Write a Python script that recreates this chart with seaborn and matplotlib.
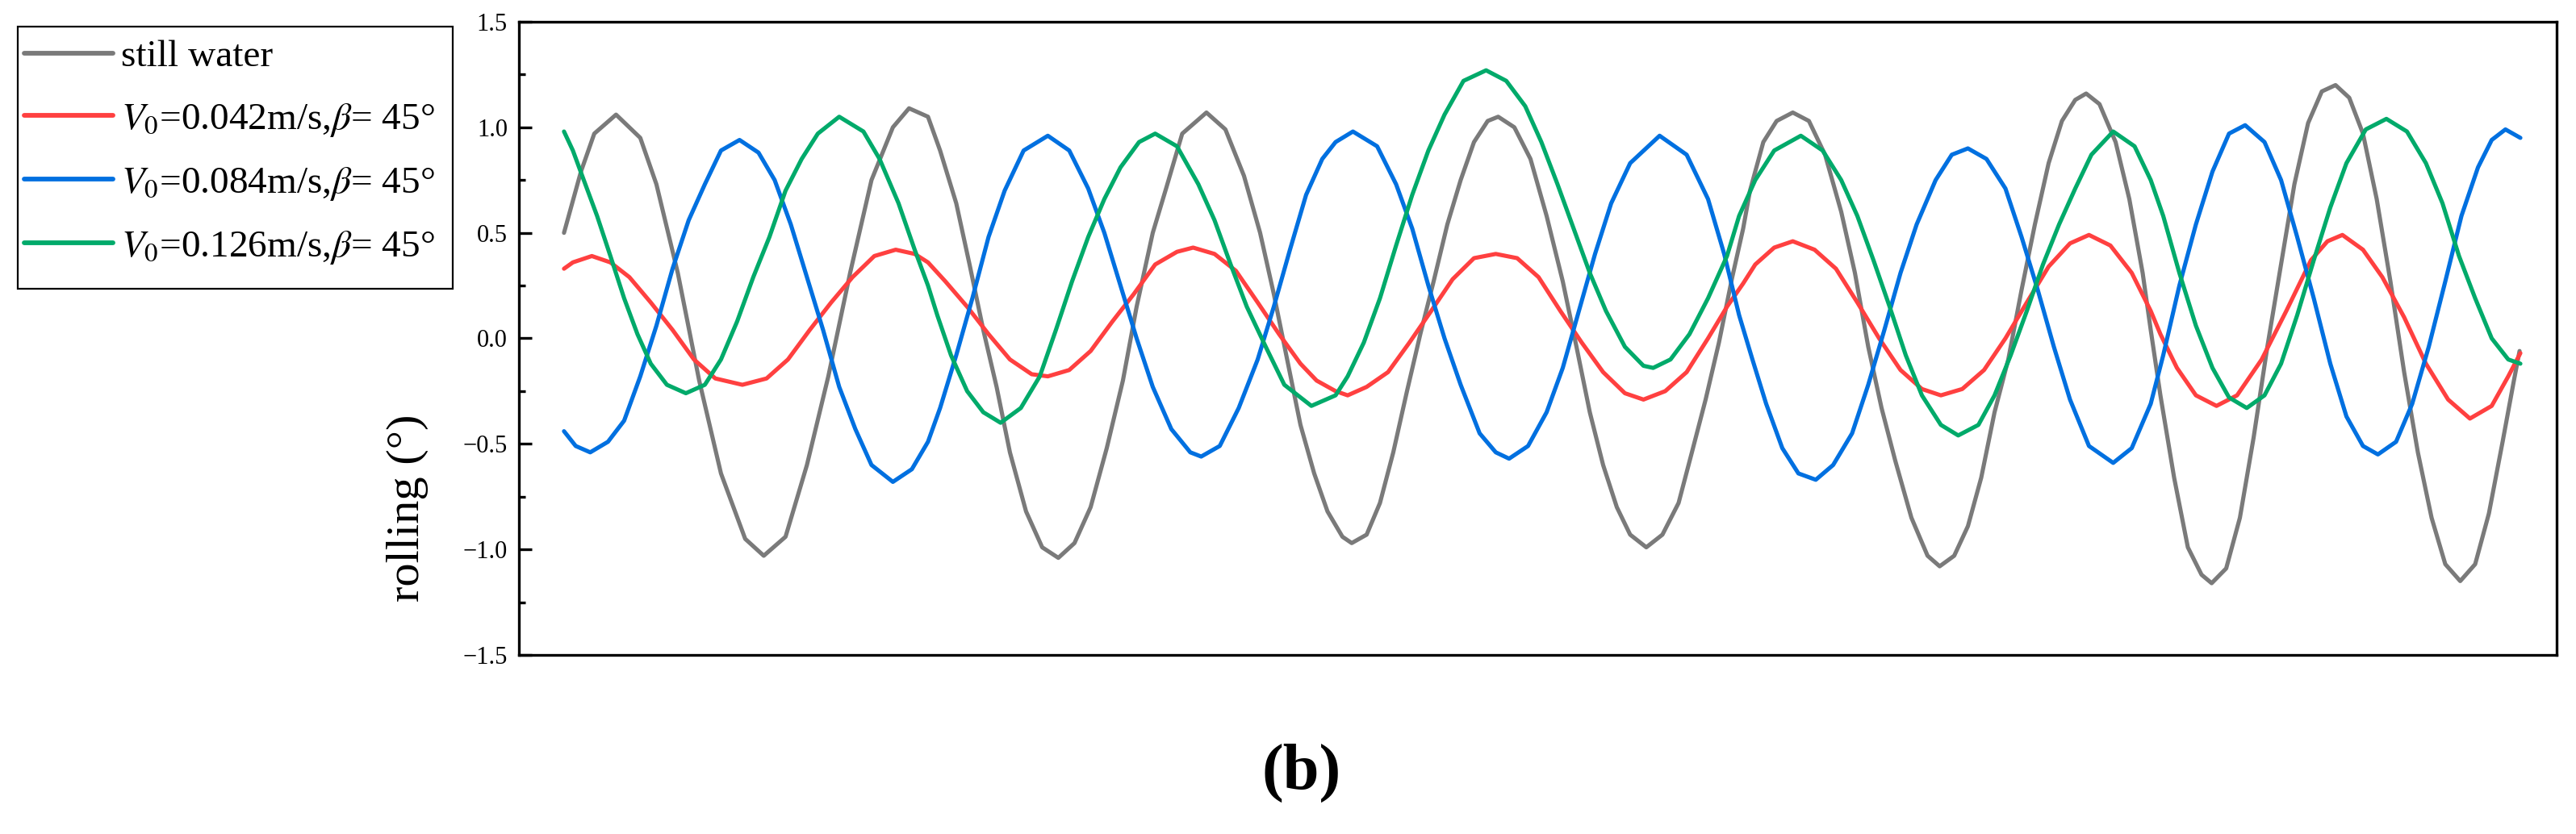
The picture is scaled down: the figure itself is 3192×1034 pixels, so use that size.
import matplotlib
matplotlib.use("Agg")
import matplotlib.pyplot as plt
import seaborn as sns
import pandas as pd
from matplotlib.lines import Line2D
from matplotlib.patches import Rectangle
from matplotlib.ticker import MultipleLocator, FuncFormatter

# rolling angle (deg) vs time (s)

# still water
t_still = [0.00, 0.42, 0.75, 1.29, 1.89, 2.29, 2.82, 3.35, 3.89, 4.49,
           4.95, 5.49, 6.02, 6.55, 7.09, 7.62, 8.15, 8.55, 9.02, 9.32,
           9.72, 10.05, 10.39, 10.72, 11.05, 11.45, 11.85, 12.25, 12.65, 13.05,
           13.45, 13.85, 14.19, 14.59, 14.92, 15.32, 15.92, 16.39, 16.85, 17.25,
           17.59, 17.92, 18.25, 18.59, 18.92, 19.29, 19.52, 19.89, 20.22, 20.55,
           20.89, 21.22, 21.55, 21.89, 22.22, 22.55, 22.89, 23.15, 23.55, 23.95,
           24.35, 24.75, 25.09, 25.42, 25.75, 26.09, 26.42, 26.82, 27.22, 27.62,
           27.95, 28.29, 28.62, 28.95, 29.22, 29.39, 29.72, 30.05, 30.45, 30.85,
           31.25, 31.65, 31.99, 32.32, 32.65, 32.99, 33.39, 33.79, 34.09, 34.45,
           34.79, 35.12, 35.45, 35.79, 36.12, 36.45, 36.79, 37.12, 37.45, 37.72,
           38.05, 38.45, 38.79, 39.12, 39.32, 39.56, 39.90, 40.24, 40.58, 40.83,
           41.19, 41.53, 41.87, 42.21, 42.55, 42.88, 43.22, 43.56, 43.90, 44.24,
           44.58, 44.92, 45.26, 45.60, 45.94, 46.28, 46.62, 46.99, 47.36, 47.70,
           48.04, 48.32, 48.46]
roll_still = [0.50, 0.79, 0.97, 1.06, 0.95, 0.73, 0.31, -0.20, -0.64, -0.95,
              -1.03, -0.94, -0.60, -0.18, 0.31, 0.75, 1.00, 1.09, 1.05, 0.89,
              0.64, 0.35, 0.04, -0.23, -0.54, -0.82, -0.99, -1.04, -0.97, -0.80,
              -0.52, -0.20, 0.15, 0.50, 0.71, 0.97, 1.07, 0.99, 0.77, 0.50,
              0.21, -0.10, -0.41, -0.64, -0.82, -0.94, -0.97, -0.93, -0.78, -0.54,
              -0.25, 0.02, 0.27, 0.54, 0.75, 0.93, 1.03, 1.05, 1.00, 0.85,
              0.58, 0.27, -0.04, -0.35, -0.60, -0.80, -0.93, -0.99, -0.93, -0.78,
              -0.54, -0.29, -0.02, 0.29, 0.52, 0.70, 0.93, 1.03, 1.07, 1.03,
              0.87, 0.60, 0.31, -0.04, -0.33, -0.58, -0.85, -1.03, -1.08, -1.03,
              -0.89, -0.66, -0.35, -0.10, 0.23, 0.54, 0.83, 1.03, 1.13, 1.16,
              1.11, 0.93, 0.66, 0.31, 0.04, -0.27, -0.66, -0.99, -1.12, -1.16,
              -1.09, -0.85, -0.47, -0.04, 0.35, 0.73, 1.02, 1.17, 1.20, 1.14,
              0.97, 0.66, 0.27, -0.16, -0.54, -0.85, -1.07, -1.15, -1.07, -0.83,
              -0.49, -0.20, -0.06]

# V0 = 0.042 m/s
t_v042 = [0.00, 0.22, 0.69, 1.15, 1.62, 2.15, 2.69, 3.22, 3.75, 4.42,
          5.02, 5.55, 6.09, 6.62, 7.15, 7.69, 8.22, 8.69, 9.02, 9.45,
          9.99, 10.52, 11.05, 11.59, 11.99, 12.52, 13.05, 13.59, 14.12, 14.65,
          15.19, 15.59, 16.12, 16.65, 17.19, 17.72, 18.25, 18.65, 19.12, 19.42,
          19.89, 20.42, 20.95, 21.49, 22.02, 22.55, 23.09, 23.62, 24.15, 24.69,
          25.22, 25.75, 26.29, 26.75, 27.29, 27.82, 28.35, 28.82, 29.22, 29.52,
          29.99, 30.45, 30.99, 31.52, 32.05, 32.59, 33.12, 33.65, 34.12, 34.65,
          35.19, 35.72, 36.25, 36.79, 37.32, 37.79, 38.32, 38.85, 39.32, 39.56,
          39.97, 40.44, 40.95, 41.46, 42.07, 42.68, 43.29, 43.70, 44.07, 44.58,
          45.06, 45.60, 46.14, 46.69, 47.23, 47.77, 48.18, 48.48]
roll_v042 = [0.33, 0.36, 0.39, 0.36, 0.29, 0.17, 0.04, -0.10, -0.19, -0.22,
             -0.19, -0.10, 0.04, 0.17, 0.29, 0.39, 0.42, 0.40, 0.36, 0.27,
             0.15, 0.02, -0.10, -0.17, -0.18, -0.15, -0.06, 0.08, 0.21, 0.35,
             0.41, 0.43, 0.40, 0.32, 0.17, 0.02, -0.12, -0.20, -0.25, -0.27,
             -0.23, -0.16, -0.02, 0.13, 0.28, 0.38, 0.40, 0.38, 0.29, 0.13,
             -0.02, -0.16, -0.26, -0.29, -0.25, -0.16, 0.00, 0.15, 0.26, 0.35,
             0.43, 0.46, 0.42, 0.33, 0.17, 0.00, -0.15, -0.24, -0.27, -0.24,
             -0.15, 0.00, 0.17, 0.34, 0.45, 0.49, 0.44, 0.31, 0.13, 0.02,
             -0.14, -0.27, -0.32, -0.27, -0.10, 0.13, 0.37, 0.46, 0.49, 0.42,
             0.29, 0.10, -0.12, -0.29, -0.38, -0.32, -0.18, -0.07]

# V0 = 0.084 m/s
t_v084 = [0.00, 0.29, 0.65, 1.09, 1.49, 1.89, 2.29, 2.69, 3.09, 3.49,
          3.89, 4.35, 4.82, 5.22, 5.62, 6.02, 6.42, 6.82, 7.22, 7.62,
          8.15, 8.62, 9.02, 9.32, 9.72, 10.12, 10.52, 10.92, 11.39, 11.99,
          12.52, 12.99, 13.39, 13.79, 14.19, 14.59, 15.05, 15.52, 15.79, 16.25,
          16.72, 17.19, 17.59, 17.99, 18.39, 18.79, 19.12, 19.55, 20.15, 20.62,
          21.02, 21.42, 21.82, 22.22, 22.69, 23.09, 23.42, 23.89, 24.35, 24.75,
          25.15, 25.55, 25.95, 26.42, 27.15, 27.82, 28.35, 28.75, 29.12, 29.45,
          29.79, 30.19, 30.59, 31.02, 31.45, 31.92, 32.32, 32.72, 33.12, 33.52,
          33.99, 34.39, 34.79, 35.25, 35.72, 36.12, 36.52, 36.92, 37.32, 37.79,
          38.39, 38.85, 39.32, 39.63, 40.03, 40.44, 40.85, 41.26, 41.66, 42.14,
          42.55, 42.95, 43.36, 43.77, 44.17, 44.58, 44.95, 45.40, 45.80, 46.21,
          46.62, 47.02, 47.43, 47.77, 48.11, 48.48]
roll_v084 = [-0.44, -0.51, -0.54, -0.49, -0.39, -0.18, 0.06, 0.33, 0.56, 0.73,
             0.89, 0.94, 0.88, 0.75, 0.54, 0.29, 0.04, -0.23, -0.43, -0.60,
             -0.68, -0.62, -0.49, -0.33, -0.08, 0.19, 0.48, 0.70, 0.89, 0.96,
             0.89, 0.71, 0.50, 0.25, 0.00, -0.23, -0.43, -0.54, -0.56, -0.51,
             -0.33, -0.10, 0.15, 0.42, 0.68, 0.85, 0.93, 0.98, 0.91, 0.73,
             0.52, 0.25, 0.00, -0.22, -0.45, -0.54, -0.57, -0.51, -0.35, -0.14,
             0.13, 0.40, 0.64, 0.83, 0.96, 0.87, 0.66, 0.40, 0.11, -0.10,
             -0.31, -0.52, -0.64, -0.67, -0.60, -0.45, -0.22, 0.04, 0.31, 0.54,
             0.75, 0.87, 0.90, 0.85, 0.71, 0.48, 0.23, -0.04, -0.29, -0.51,
             -0.59, -0.52, -0.31, -0.08, 0.25, 0.54, 0.79, 0.97, 1.01, 0.93,
             0.75, 0.48, 0.19, -0.12, -0.37, -0.51, -0.55, -0.49, -0.31, -0.04,
             0.27, 0.58, 0.81, 0.94, 0.99, 0.95]

# V0 = 0.126 m/s
t_v126 = [0.00, 0.22, 0.49, 0.82, 1.15, 1.49, 1.82, 2.15, 2.55, 3.02,
          3.49, 3.89, 4.29, 4.69, 5.09, 5.49, 5.89, 6.29, 6.82, 7.42,
          7.82, 8.29, 8.69, 9.02, 9.25, 9.59, 9.99, 10.39, 10.82, 11.32,
          11.79, 12.19, 12.59, 12.99, 13.39, 13.79, 14.25, 14.65, 15.19, 15.72,
          16.12, 16.52, 16.92, 17.39, 17.85, 18.52, 19.12, 19.42, 19.82, 20.22,
          20.62, 21.02, 21.42, 21.82, 22.29, 22.85, 23.35, 23.82, 24.22, 24.62,
          25.02, 25.42, 25.82, 26.29, 26.75, 26.99, 27.42, 27.89, 28.35, 28.82,
          29.12, 29.52, 29.99, 30.65, 31.19, 31.65, 32.05, 32.45, 32.85, 33.25,
          33.65, 34.12, 34.55, 35.05, 35.45, 35.85, 36.25, 36.65, 37.05, 37.45,
          37.85, 38.39, 38.92, 39.32, 39.63, 40.03, 40.44, 40.85, 41.26, 41.70,
          42.14, 42.55, 42.95, 43.36, 43.77, 44.17, 44.65, 45.16, 45.67, 46.14,
          46.55, 46.96, 47.36, 47.77, 48.18, 48.48]
roll_v126 = [0.98, 0.89, 0.75, 0.58, 0.39, 0.19, 0.02, -0.12, -0.22, -0.26,
             -0.22, -0.10, 0.08, 0.29, 0.48, 0.70, 0.85, 0.97, 1.05, 0.98,
             0.85, 0.64, 0.42, 0.25, 0.11, -0.08, -0.25, -0.35, -0.40, -0.33,
             -0.18, 0.04, 0.27, 0.48, 0.66, 0.81, 0.93, 0.97, 0.91, 0.73,
             0.56, 0.35, 0.15, -0.04, -0.22, -0.32, -0.27, -0.18, -0.02, 0.19,
             0.44, 0.68, 0.89, 1.06, 1.22, 1.27, 1.22, 1.10, 0.93, 0.73,
             0.52, 0.31, 0.13, -0.04, -0.13, -0.14, -0.10, 0.02, 0.19, 0.39,
             0.58, 0.75, 0.89, 0.96, 0.89, 0.75, 0.58, 0.37, 0.15, -0.08,
             -0.27, -0.41, -0.46, -0.41, -0.27, -0.08, 0.13, 0.35, 0.54, 0.71,
             0.87, 0.98, 0.91, 0.75, 0.58, 0.31, 0.06, -0.14, -0.28, -0.33,
             -0.27, -0.12, 0.11, 0.37, 0.62, 0.83, 0.99, 1.04, 0.98, 0.83,
             0.64, 0.39, 0.19, 0.00, -0.10, -0.12]

labels = ['still water',
          r'$V_{\mathit{0}}$=0.042m/s,$\beta$= 45°',
          r'$V_{\mathit{0}}$=0.084m/s,$\beta$= 45°',
          r'$V_{\mathit{0}}$=0.126m/s,$\beta$= 45°']
colors = ['#7a7a7a', '#ff4040', '#0070e0', '#00aa6a']

frames = []
for lab, t, r in zip(labels, [t_still, t_v042, t_v084, t_v126],
                     [roll_still, roll_v042, roll_v084, roll_v126]):
    frames.append(pd.DataFrame({'t': t, 'roll': r, 'case': lab}))
df = pd.concat(frames, ignore_index=True)

sns.set_style('white')
plt.rcParams['font.family'] = ['Liberation Serif', 'DejaVu Serif']
plt.rcParams['mathtext.fontset'] = 'stix'
for k in ['text.color', 'axes.labelcolor', 'xtick.color', 'ytick.color', 'axes.edgecolor']:
    plt.rcParams[k] = 'black'

fig = plt.figure(figsize=(31.92, 10.34), dpi=100)
ax = fig.add_axes([0.2014, 0.2147, 0.7911, 0.7592])

sns.lineplot(data=df, x='t', y='roll', hue='case', hue_order=labels,
             palette=colors, sort=False, estimator=None,
             legend=False, ax=ax)
# make sure the width sticks, and soften the joins
for ln in ax.get_lines():
    ln.set_linewidth(3.7)
    ln.set_solid_joinstyle('round')
    ln.set_solid_capstyle('round')

ax.set_xlim(-1.12, 49.38)
ax.set_ylim(-1.5, 1.5)
ax.yaxis.set_major_locator(MultipleLocator(0.5))
ax.yaxis.set_minor_locator(MultipleLocator(0.25))
ax.yaxis.set_major_formatter(FuncFormatter(lambda v, p: f'{v:.1f}'.replace('-', '\u2212')))
ax.tick_params(axis='y', which='major', direction='in', length=11.5, width=2.4,
               labelsize=22, pad=10, left=True, right=False)
ax.tick_params(axis='y', which='minor', direction='in', length=5.8, width=2.4,
               left=True, right=False)
ax.tick_params(axis='x', which='both', bottom=False, labelbottom=False)
for s in ax.spines.values():
    s.set_linewidth(2.4)
    s.set_color('black')

ax.set_xlabel('')
ax.set_ylabel('rolling (°)', fontsize=42)
ax.yaxis.label.set_verticalalignment('center')
ax.yaxis.set_label_coords(-0.0547, 0.232)

# legend outside the axes, on the left
handles = [Line2D([], [], color=c, lw=4.2, solid_capstyle='round') for c in colors]
fig.legend(handles, labels, loc='upper left', bbox_to_anchor=(21 / 3192, 1 - 40 / 1034),
           frameon=False, fontsize=34, handlelength=2.33, handletextpad=0.21,
           labelspacing=0.7, borderpad=0.2, borderaxespad=0)
fig.patches.append(Rectangle((22 / 3192, 1 - 358 / 1034), 539 / 3192, 325 / 1034,
                             transform=fig.transFigure, fill=False, lw=1.6, ec='black'))

fig.text(0.5053, 0.0735, '(b)', ha='center', va='center', fontsize=58, fontweight='bold')

fig.savefig('out.png', dpi=100)
